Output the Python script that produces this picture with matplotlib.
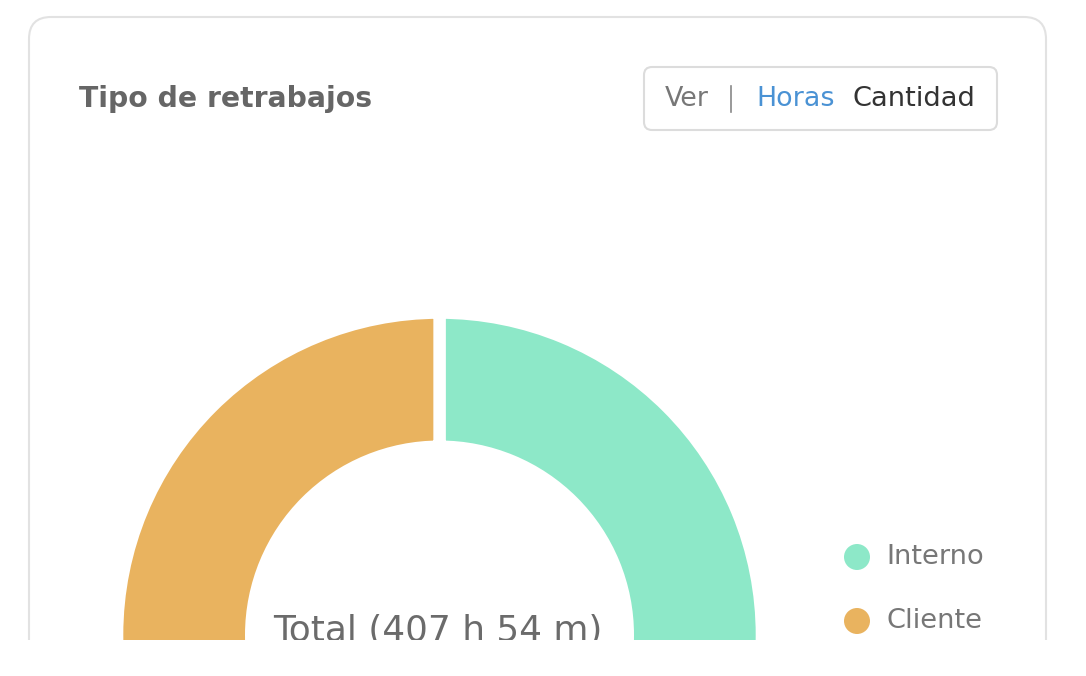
import matplotlib.pyplot as plt
from matplotlib.patches import FancyBboxPatch, Rectangle, Circle

# datos del grafico (horas)
labels = ['Interno', 'Cliente']
hours = [204.1, 203.8]
colors = ['#8de8c8', '#e9b35f']

W, H = 1086, 676
FONT = 'DejaVu Sans'


def Y(y):
    # coordenadas de pantalla -> coordenadas de matplotlib
    return H - y


def total_label(values):
    total_min = round(sum(values) * 60)
    return f"Total ({total_min // 60} h {total_min % 60} m)"


fig = plt.figure(figsize=(W / 100, H / 100), dpi=100)
ax = fig.add_axes([0, 0, 1, 1])

gap = 12.3  # px
ax.pie(hours, colors=colors, startangle=90, counterclock=False,
       radius=316.2 + gap / 2, center=(439.5, Y(635)), frame=True,
       wedgeprops=dict(width=121.7 + gap, edgecolor='white',
                       linewidth=gap * 0.72))

ax.set_xlim(0, W)
ax.set_ylim(0, H)
ax.set_aspect('auto')
ax.axis('off')

# tarjeta
ax.add_patch(FancyBboxPatch((29, Y(720)), 1017, 703,
                            boxstyle='round,pad=0,rounding_size=22',
                            fc='none', ec='#e2e2e2', lw=1.5, zorder=0))

ax.text(79, Y(99), 'Tipo de retrabajos', fontsize=20.3, fontweight='bold',
        color='#666666', va='center', ha='left', family=FONT)

# selector Ver | Horas Cantidad
ax.add_patch(FancyBboxPatch((644, Y(130)), 353, 63,
                            boxstyle='round,pad=0,rounding_size=8',
                            fc='white', ec='#dcdcdc', lw=1.5))
ax.text(665, Y(99), 'Ver', fontsize=19.4, color='#777777', va='center',
        family=FONT)
ax.plot([731, 731], [Y(86), Y(112)], color='#888888', lw=1.2)
ax.text(756, Y(99), 'Horas', fontsize=19.4, color='#4a92d4', va='center',
        family=FONT)
ax.text(853, Y(99), 'Cantidad', fontsize=19.6, color='#333333', va='center',
        family=FONT)

# leyenda
for i, (lab, col) in enumerate(zip(labels, colors)):
    yy = Y(557 + 64 * i)
    ax.add_patch(Circle((857, yy), 13, fc=col, ec='none'))
    ax.text(886, yy, lab, fontsize=19.6, color='#777777', va='center',
            family=FONT)

ax.text(437.5, Y(641), total_label(hours), fontsize=25.8, color='#6b6b6b',
        ha='center', va='baseline', family=FONT)

# recorte inferior de la captura
ax.add_patch(Rectangle((0, 0), W, Y(640), fc='white', ec='none', zorder=10))

fig.savefig('out.png', dpi=100)
